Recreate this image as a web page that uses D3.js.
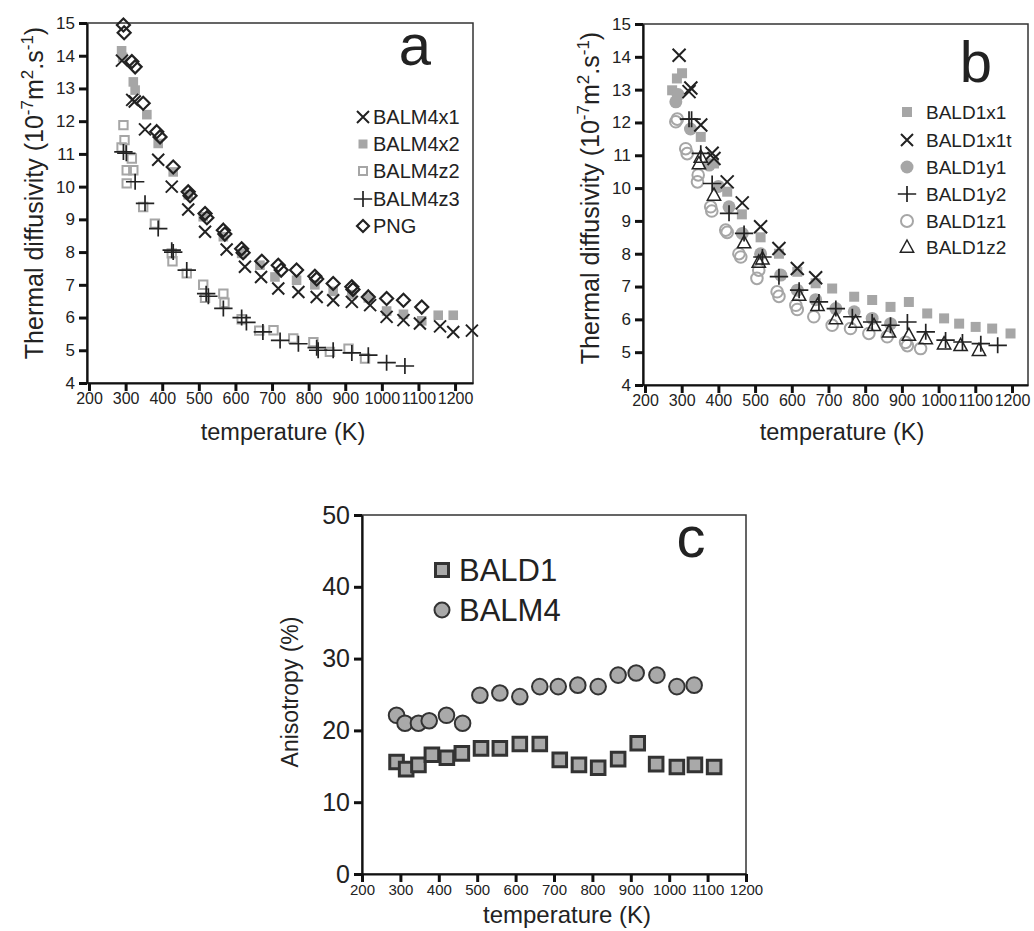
<!DOCTYPE html>
<html><head><meta charset="utf-8">
<script src="https://cdn.jsdelivr.net/npm/d3@7"></script>
<style>
body{margin:0;background:#fff;}
text{font-family:"Liberation Sans",Arial,Helvetica,sans-serif;fill:#222;}
</style></head>
<body><svg id="c" width="1034" height="931"></svg>
<script>
// ---------- DATA ----------
const xTicks = [200,300,400,500,600,700,800,900,1000,1100,1200];
const yTicksAB = [4,5,6,7,8,9,10,11,12,13,14,15];
const yTicksC = [0,10,20,30,40,50];

// Panel a
const BALM4x1_T = [290,318,325,353,389,426,471,517,576,626,670,717,772,822,867,918,968,1013,1059,1104,1159,1195,1246];
const BALM4x1_V = [13.85,12.65,12.6,11.75,10.82,10.0,9.3,8.62,8.08,7.55,7.24,6.89,6.78,6.63,6.53,6.48,6.38,6.02,5.92,5.82,5.73,5.56,5.6];
const BALM4x2_T = [289,292,321,326,358,389,430,471,512,567,617,667,708,767,817,867,918,963,1013,1059,1109,1154,1195];
const BALM4x2_V = [14.15,13.95,13.2,12.95,12.2,11.32,10.45,9.75,9.08,8.47,7.96,7.6,7.24,7.14,7.0,6.8,6.7,6.6,6.2,6.1,5.9,6.07,6.07];
const BALM4z2_T = [289,294,297,303,303,317,321,348,380,426,428,467,512,517,567,570,617,665,704,758,813,858,909,954];
const BALM4z2_V = [11.2,11.88,11.42,10.5,10.1,10.86,10.5,9.38,8.87,7.96,7.72,7.35,7.0,6.6,6.73,6.45,5.95,5.6,5.61,5.36,5.25,4.95,5.05,4.75];
const BALM4z3_T = [294,302,326,353,389,426,430,467,520,526,567,617,630,675,722,772,822,826,867,918,963,1013,1063];
const BALM4z3_V = [11.06,11.02,10.15,9.49,8.72,8.06,8.0,7.45,6.73,6.65,6.28,6.0,5.85,5.56,5.3,5.2,5.08,5.0,5.0,4.92,4.85,4.62,4.52];
const PNG_T = [294,296,317,326,348,385,394,430,471,476,517,522,567,571,617,621,672,717,725,767,817,822,867,918,921,963,1013,1059,1109];
const PNG_V = [14.94,14.7,13.82,13.66,12.55,11.68,11.52,10.6,9.84,9.72,9.18,9.05,8.67,8.55,8.1,7.98,7.72,7.6,7.45,7.45,7.26,7.18,7.04,6.94,6.86,6.63,6.58,6.53,6.32];

// Panel b
const BALD1x1_T = [274,287,301,352,388,424,464,515,565,615,665,710,770,819,869,919,969,1015,1056,1101,1146,1196];
const BALD1x1_V = [12.98,13.34,13.5,11.56,10.75,9.89,9.2,8.5,8.0,7.45,7.1,6.94,6.69,6.59,6.38,6.53,6.18,6.03,5.87,5.77,5.72,5.57];
const BALD1x1t_T = [293,320,325,352,383,388,424,465,515,565,615,665];
const BALD1x1t_V = [14.05,12.94,13.05,11.92,11.06,10.9,10.19,9.55,8.82,8.16,7.55,7.27];
const BALD1y1_T = [284,290,324,375,400,429,465,515,570,615,665,720,770,819,869];
const BALD1y1_V = [12.63,12.85,11.8,10.7,10.05,9.43,8.62,8.0,7.35,6.89,6.6,6.33,6.23,6.03,5.87];
const BALD1y2_T = [320,327,352,383,429,470,520,565,620,674,720,765,819,869,915,965,1019,1065,1115,1161];
const BALD1y2_V = [12.1,12.1,11.06,10.14,9.23,8.62,7.9,7.3,6.89,6.53,6.33,6.08,5.92,5.82,5.92,5.62,5.37,5.31,5.26,5.21];
const BALD1z1_T = [284,288,311,315,343,345,379,382,420,424,456,461,505,510,560,565,611,615,660,710,760,810,860,910,915,951];
const BALD1z1_V = [12.02,12.1,11.2,11.05,10.19,10.4,9.43,9.3,8.72,8.65,8.0,7.9,7.25,7.5,6.84,6.7,6.43,6.3,6.08,5.82,5.72,5.57,5.47,5.3,5.2,5.11];
const BALD1z2_T = [347,352,388,470,510,520,620,670,720,774,824,865,919,965,1015,1060,1110];
const BALD1z2_V = [10.75,10.95,9.79,8.34,7.75,7.85,6.74,6.43,6.03,5.92,5.82,5.62,5.52,5.42,5.26,5.21,5.06];

// Panel c
const BALD1_T = [290,315,347,382,421,460,510,559,611,663,715,765,815,867,918,966,1020,1067,1117];
const BALD1_V = [15.6,14.6,15.2,16.6,16.2,16.8,17.5,17.5,18.1,18.1,15.9,15.2,14.8,16.0,18.2,15.3,14.9,15.2,14.9];
const BALM4_T = [290,312,347,375,420,462,507,559,611,663,711,762,815,867,914,968,1020,1065];
const BALM4_V = [22.1,21.0,21.0,21.35,22.1,21.0,24.9,25.2,24.7,26.1,26.1,26.3,26.1,27.7,28.0,27.7,26.1,26.3];

// ---------- DRAWING ----------
const svg = d3.select("#c");
const DARK = "#222", GRAY = "#a6a6a6";

const shapePath = {
  cross: s => `M${-s},${-s}L${s},${s}M${-s},${s}L${s},${-s}`,
  plus: s => `M${-s*1.15},0L${s*1.15},0M0,${-s}L0,${s}`,
  diamond: s => `M0,${-s}L${s},0L0,${s}L${-s},0Z`,
  square: s => `M${-s},${-s}h${2*s}v${2*s}h${-2*s}Z`,
  tri: s => `M0,${-s}L${s*0.95},${s*0.75}L${-s*0.95},${s*0.75}Z`
};

function drawShape(g, cx, cy, type, size, st) {
  if (type === "circle") {
    return g.append("circle").attr("cx", cx).attr("cy", cy).attr("r", size)
      .attr("fill", st.fill || "none").attr("stroke", st.stroke || "none").attr("stroke-width", st.sw || 0);
  }
  return g.append("path").attr("d", shapePath[type](size))
    .attr("transform", `translate(${cx},${cy})`)
    .attr("fill", st.fill || "none").attr("stroke", st.stroke || "none").attr("stroke-width", st.sw || 0);
}

function series(g, x, y, T, V, type, size, st) {
  T.forEach((t, i) => drawShape(g, x(t), y(V[i]), type, size, st));
}

function frame(cfg) {
  const x = d3.scaleLinear().domain(cfg.xd).range([cfg.l, cfg.r]);
  const y = d3.scaleLinear().domain(cfg.yd).range([cfg.b, cfg.t]);
  const g = svg.append("g");
  g.append("rect").attr("x", cfg.l).attr("y", cfg.t).attr("width", cfg.r - cfg.l).attr("height", cfg.b - cfg.t)
    .attr("fill", "none").attr("stroke", "#333").attr("stroke-width", 1.5);
  const ax = g.append("g").attr("transform", `translate(0,${cfg.b})`)
    .call(d3.axisBottom(x).tickValues(xTicks).tickFormat(d3.format("d")).tickSize(8).tickSizeOuter(0).tickPadding(2));
  ax.selectAll("text").attr("font-size", cfg.xfs).attr("fill", "#111").style("font-family", "Liberation Sans, Arial, sans-serif");
  const ay = g.append("g").attr("transform", `translate(${cfg.l},0)`)
    .call(d3.axisLeft(y).tickValues(cfg.yticks).tickFormat(d3.format("d")).tickSize(8).tickSizeOuter(0).tickPadding(4));
  ay.selectAll("text").attr("font-size", cfg.yfs).attr("fill", "#111").style("font-family", "Liberation Sans, Arial, sans-serif");
  [ax, ay].forEach(a => {
    a.select(".domain").attr("stroke", "#111").attr("stroke-width", 2.2);
    a.selectAll(".tick line").attr("stroke", "#111").attr("stroke-width", 3);
  });
  return {g, x, y};
}

function yLabelDiff(xb, yc) {
  const t = svg.append("text").attr("transform", `translate(${xb},${yc}) rotate(-90)`)
    .attr("text-anchor", "middle").attr("font-size", 25);
  t.append("tspan").text("Thermal diffusivity (10");
  t.append("tspan").attr("dy", -10).attr("font-size", 17).text("-7");
  t.append("tspan").attr("dy", 10).text("m");
  t.append("tspan").attr("dy", -10).attr("font-size", 17).text("2");
  t.append("tspan").attr("dy", 10).text(".s");
  t.append("tspan").attr("dy", -10).attr("font-size", 17).text("-1");
  t.append("tspan").attr("dy", 10).text(")");
}

// ----- Panel a -----
{
  const P = frame({l:87, r:473, t:23, b:383, xd:[194.5,1249], yd:[4,15], yticks:yTicksAB, xfs:16, yfs:17});
  const {g, x, y} = P;
  series(g, x, y, BALM4x2_T, BALM4x2_V, "square", 4.8, {fill: GRAY});
  series(g, x, y, BALM4z2_T, BALM4z2_V, "square", 4.2, {stroke: GRAY, sw: 2});
  series(g, x, y, BALM4x1_T, BALM4x1_V, "cross", 6, {stroke: DARK, sw: 2});
  series(g, x, y, BALM4z3_T, BALM4z3_V, "plus", 8, {stroke: DARK, sw: 1.7});
  series(g, x, y, PNG_T, PNG_V, "diamond", 6.5, {stroke: DARK, sw: 2.2});
  // legend
  const L = [["cross",6,{stroke:DARK,sw:2},"BALM4x1",117],["square",4.5,{fill:GRAY},"BALM4x2",144],
             ["square",4,{stroke:GRAY,sw:2},"BALM4z2",171],["plus",8,{stroke:DARK,sw:1.7},"BALM4z3",199],
             ["diamond",6,{stroke:DARK,sw:2.2},"PNG",226]];
  L.forEach(d => {
    drawShape(svg, 363, d[4], d[0], d[1], d[2]);
    svg.append("text").attr("x", 373).attr("y", d[4] + 7).attr("font-size", 20).text(d[3]);
  });
  svg.append("text").attr("x", 415).attr("y", 65).attr("text-anchor", "middle").attr("font-size", 58).text("a");
  yLabelDiff(43, 193);
  svg.append("text").attr("x", 283).attr("y", 440).attr("text-anchor", "middle").attr("font-size", 23.5).text("temperature (K)");
}

// ----- Panel b -----
{
  const P = frame({l:643, r:1028, t:24, b:385, xd:[194.6,1243.6], yd:[4,15], yticks:yTicksAB, xfs:16, yfs:17});
  const {g, x, y} = P;
  series(g, x, y, BALD1x1_T, BALD1x1_V, "square", 5, {fill: GRAY});
  series(g, x, y, BALD1y1_T, BALD1y1_V, "circle", 6.5, {fill: GRAY});
  series(g, x, y, BALD1z1_T, BALD1z1_V, "circle", 5.8, {stroke: GRAY, sw: 2});
  series(g, x, y, BALD1x1t_T, BALD1x1t_V, "cross", 6.5, {stroke: DARK, sw: 2});
  series(g, x, y, BALD1y2_T, BALD1y2_V, "plus", 8, {stroke: DARK, sw: 1.7});
  series(g, x, y, BALD1z2_T, BALD1z2_V, "tri", 7, {stroke: DARK, sw: 1.5});
  const L = [["square",5,{fill:GRAY},"BALD1x1",112],["cross",6,{stroke:DARK,sw:2},"BALD1x1t",140],
             ["circle",6.5,{fill:GRAY},"BALD1y1",167],["plus",8,{stroke:DARK,sw:1.7},"BALD1y2",194],
             ["circle",6,{stroke:GRAY,sw:2},"BALD1z1",221],["tri",7,{stroke:DARK,sw:1.5},"BALD1z2",247]];
  L.forEach(d => {
    drawShape(svg, 907, d[4], d[0], d[1], d[2]);
    svg.append("text").attr("x", 926).attr("y", d[4] + 7).attr("font-size", 19).text(d[3]);
  });
  svg.append("text").attr("x", 976).attr("y", 82).attr("text-anchor", "middle").attr("font-size", 58).text("b");
  yLabelDiff(599, 198);
  svg.append("text").attr("x", 842).attr("y", 440).attr("text-anchor", "middle").attr("font-size", 23.5).text("temperature (K)");
}

// ----- Panel c -----
{
  const P = frame({l:362, r:746, t:515, b:874, xd:[200,1200], yd:[0,50], yticks:yTicksC, xfs:15, yfs:25});
  const {g, x, y} = P;
  series(g, x, y, BALD1_T, BALD1_V, "square", 6.8, {fill: "#a9a9a9", stroke: "#333", sw: 3});
  series(g, x, y, BALM4_T, BALM4_V, "circle", 7.8, {fill: "#a9a9a9", stroke: "#333", sw: 2});
  drawShape(svg, 442, 570, "square", 6.5, {fill: "#a9a9a9", stroke: "#333", sw: 3});
  drawShape(svg, 442, 610, "circle", 7.5, {fill: "#a9a9a9", stroke: "#333", sw: 2});
  svg.append("text").attr("x", 459).attr("y", 581).attr("font-size", 31).text("BALD1");
  svg.append("text").attr("x", 459).attr("y", 621).attr("font-size", 31).text("BALM4");
  svg.append("text").attr("x", 691).attr("y", 557).attr("text-anchor", "middle").attr("font-size", 58).text("c");
  svg.append("text").attr("transform", "translate(298,692) rotate(-90)").attr("text-anchor", "middle")
    .attr("font-size", 23).text("Anisotropy (%)");
  svg.append("text").attr("x", 567).attr("y", 923).attr("text-anchor", "middle").attr("font-size", 24).text("temperature (K)");
}
</script></body></html>
